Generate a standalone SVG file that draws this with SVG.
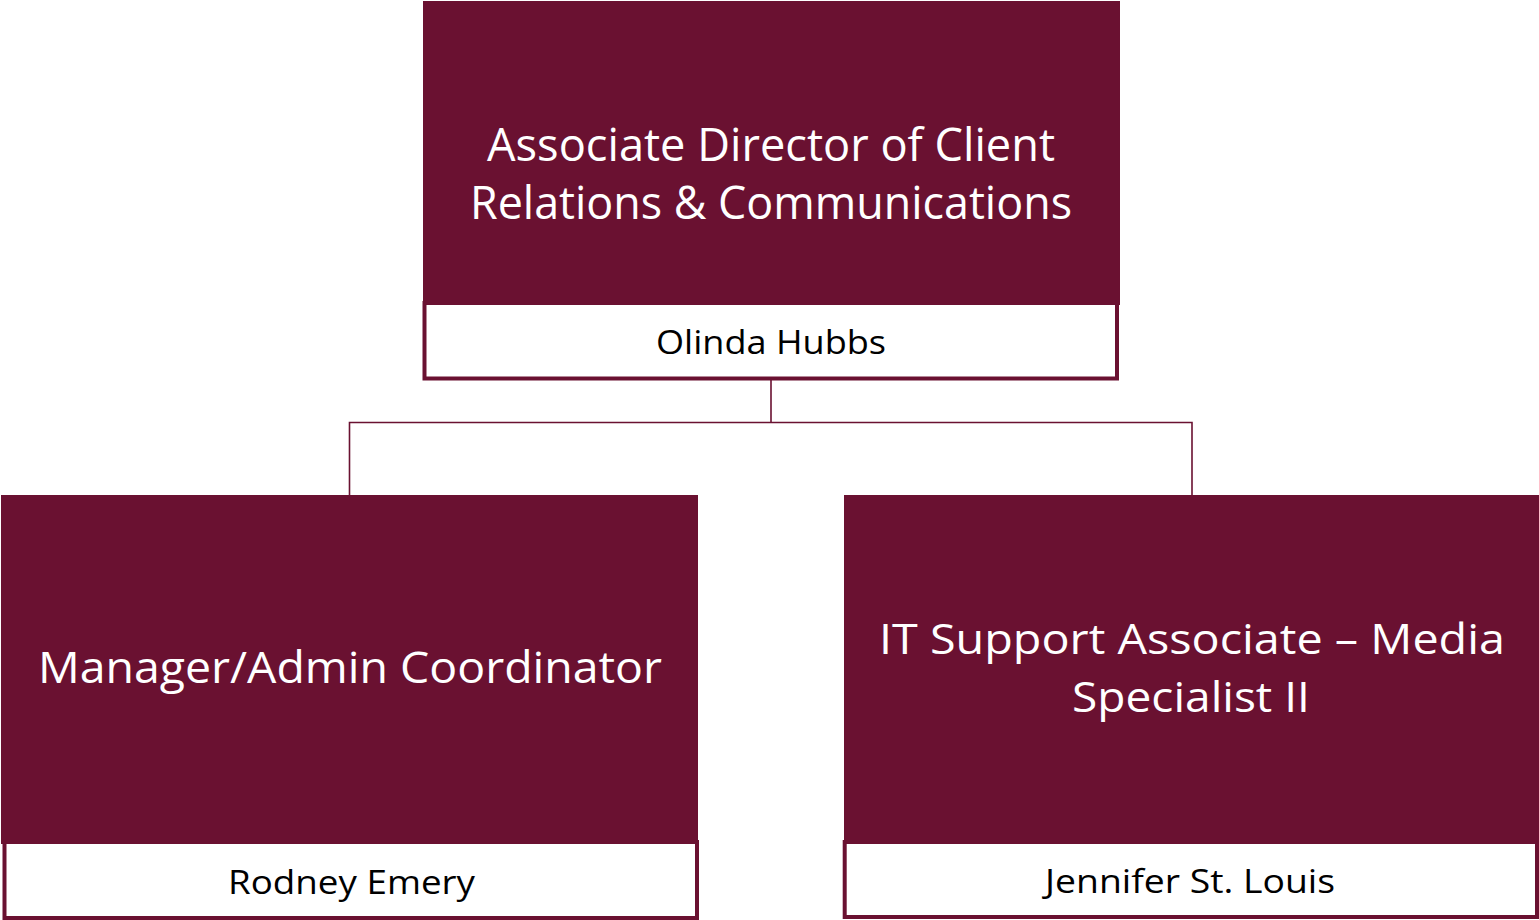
<svg xmlns="http://www.w3.org/2000/svg" width="1539" height="920" viewBox="0 0 1539 920">
<style>
.box{fill:#6A1131;}
.name{fill:#FFFFFF;stroke:#6A1131;stroke-width:4;}
.title{font-family:"Open Sans","Liberation Sans",sans-serif;fill:#FFFFFF;text-anchor:middle;}
.nm{font-family:"Open Sans","Liberation Sans",sans-serif;fill:#000000;text-anchor:middle;font-size:32px;}
.conn{fill:none;stroke:#6A1131;stroke-width:1.6;}
</style>
<rect width="1539" height="920" fill="#FFFFFF"/>
<g id="connectors">
<path class="conn" d="M771 380 V422.5 M349.5 495 V422.5 H1192 V495"/>
</g>
<g id="node-director">
<rect class="name" x="424.5" y="303" width="692.5" height="75.5"/>
<rect class="box" x="423" y="1" width="697" height="304"/>
<text class="title" font-size="45" x="771" y="161" textLength="568" lengthAdjust="spacingAndGlyphs">Associate Director of Client</text>
<text class="title" font-size="45" x="771" y="219" textLength="602" lengthAdjust="spacingAndGlyphs">Relations &amp; Communications</text>
<text class="nm" x="771" y="354" textLength="230" lengthAdjust="spacingAndGlyphs">Olinda Hubbs</text>
</g>
<g id="node-manager">
<rect class="name" x="4.5" y="842" width="692.5" height="76"/>
<rect class="box" x="1" y="495" width="697" height="349"/>
<text class="title" font-size="43" x="350" y="683" textLength="624" lengthAdjust="spacingAndGlyphs">Manager/Admin Coordinator</text>
<text class="nm" x="351.5" y="894" textLength="247" lengthAdjust="spacingAndGlyphs">Rodney Emery</text>
</g>
<g id="node-it">
<rect class="name" x="844.7" y="842" width="692.3" height="75"/>
<rect class="box" x="844" y="495" width="695" height="348"/>
<text class="title" font-size="42" x="1192" y="654" textLength="626" lengthAdjust="spacingAndGlyphs">IT Support Associate – Media</text>
<text class="title" font-size="42" x="1191" y="712" textLength="238" lengthAdjust="spacingAndGlyphs">Specialist II</text>
<text class="nm" x="1190" y="893" textLength="290" lengthAdjust="spacingAndGlyphs">Jennifer St. Louis</text>
</g>
</svg>
